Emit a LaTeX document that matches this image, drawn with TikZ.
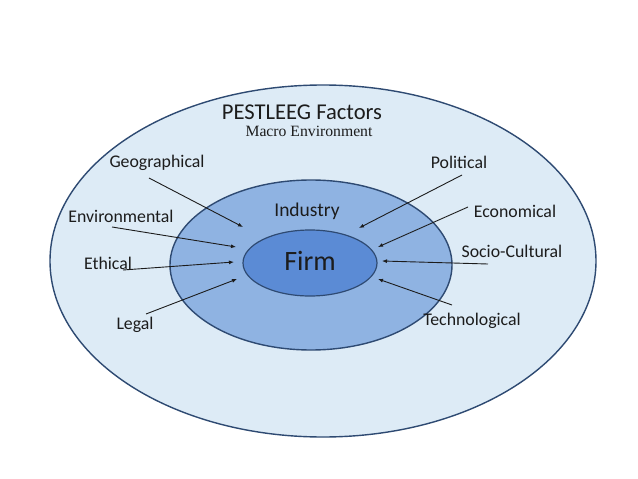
\documentclass[tikz,border=0pt]{standalone}
\usepackage{fontspec}
\setmainfont{Carlito}
\newfontfamily\macrofont{Liberation Serif}
\usepackage{tikz}
\usetikzlibrary{
  arrows,
  arrows.meta,
  calc,
  positioning,
  shapes.geometric
}
\tikzset{>=latex}
\definecolor{macroblue}{HTML}{DDEBF6}
\definecolor{industryblue}{HTML}{8FB3E2}
\definecolor{firmblue}{HTML}{5B8BD5}
\definecolor{ringline}{HTML}{2E4A72}
\definecolor{inktext}{HTML}{1C1C1C}
\tikzset{factor/.style={font=\fontsize{17.8}{20}\selectfont, text=inktext, inner sep=0pt},
  push/.style={-{Latex[length=5pt,width=4pt]}, line width=0.9pt, draw=inktext}}

\begin{document}
\begin{tikzpicture}[x=1pt,y=-1pt]
  \useasboundingbox (0,0) rectangle (638,479);
  \fill[white] (0,0) rectangle (638,479);
  % the three rings
  \draw[ringline, line width=1.4pt, fill=macroblue] (323,261) ellipse [x radius=273, y radius=176];
  \draw[ringline, line width=1.4pt, fill=industryblue] (311,265) ellipse [x radius=141, y radius=85];
  \draw[ringline, line width=1.2pt, fill=firmblue] (310,263) ellipse [x radius=67, y radius=33];
  % titles
  \node[font=\fontsize{22.6}{25}\selectfont, text=inktext, inner sep=0pt] (title) at (302,112) {PESTLEEG Factors};
  \node[font=\macrofont\fontsize{15.7}{18}\selectfont, text=inktext, inner sep=0pt] (macro) at (309,131) {Macro Environment};
  \node[font=\fontsize{19.5}{22}\selectfont, text=inktext, inner sep=0pt] (industry) at (307,211) {Industry};
  \node[font=\fontsize{28}{30}\selectfont, text=inktext, inner sep=0pt] (firm) at (310,261) {Firm};
  % the factors
  \node[factor] (geo) at (157,163) {Geographical};
  \node[factor] (env) at (121,216) {Environmental};
  \node[factor] (eth) at (108,263) {Ethical};
  \node[factor] (leg) at (135,325) {Legal};
  \node[factor] (pol) at (459,162) {Political};
  \node[factor] (eco) at (515,211) {Economical};
  \node[factor] (soc) at (512,251) {Socio-Cultural};
  \node[factor] (tec) at (472,321) {Technological};
  % where the arrows end
  \coordinate (geo-t) at (243,227);
  \coordinate (env-t) at (236,247);
  \coordinate (eth-t) at (234,262);
  \coordinate (leg-t) at (237,279);
  \coordinate (pol-t) at (359,228);
  \coordinate (eco-t) at (378,247);
  \coordinate (soc-t) at (382,261);
  \coordinate (tec-t) at (378,279);
  % the arrows
  \draw[push] ($(geo)+(-8,15)$) -- (geo-t);
  \draw[push] ($(env)+(-9,11)$) -- (env-t);
  \draw[push] ($(eth)+(15,7)$) -- (eth-t);
  \draw[push] ($(leg)+(11,-11)$) -- (leg-t);
  \draw[push] ($(pol)+(3,13)$) -- (pol-t);
  \draw[push] ($(eco)+(-47,-4)$) -- (eco-t);
  \draw[push] ($(soc)+(-24,13)$) -- (soc-t);
  \draw[push] ($(tec)+(-20,-16)$) -- (tec-t);
\end{tikzpicture}
\end{document}
